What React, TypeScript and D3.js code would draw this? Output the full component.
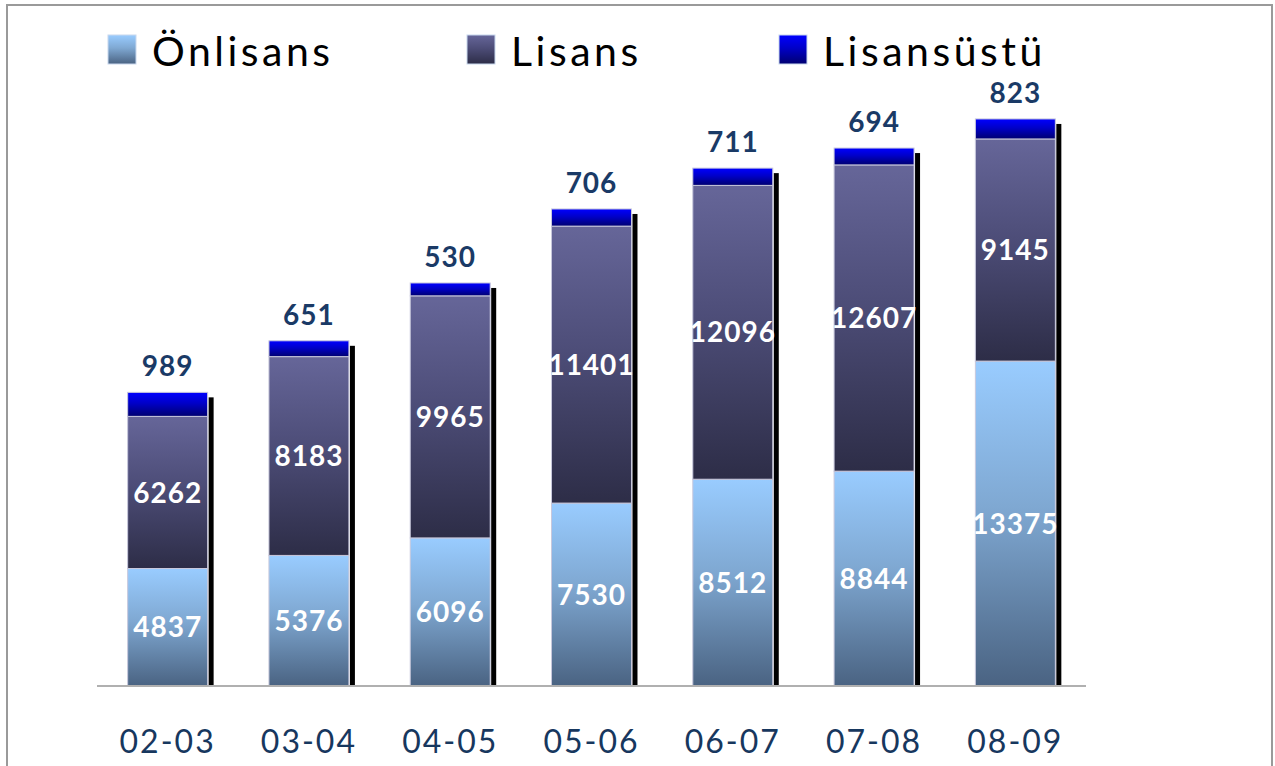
import React from "react";
import * as d3 from "d3";

const categories = ["02-03", "03-04", "04-05", "05-06", "06-07", "07-08", "08-09"];
const onlisans = [4837, 5376, 6096, 7530, 8512, 8844, 13375];
const lisans = [6262, 8183, 9965, 11401, 12096, 12607, 9145];
const lisansustu = [989, 651, 530, 706, 711, 694, 823];
const seriesNames = ["Önlisans", "Lisans", "Lisansüstü"];
const seriesKeys = ["onlisans", "lisans", "lisansustu"];

const W = 1275;
const H = 766;
const baseY = 686;
const plotTop = 78.7;
const plotLeft = 97;
const plotRight = 1086;

const gradStops: Record<string, [string, string, string]> = {
  onlisans: ["#99CCFF", "#7FA8D2", "#4A6382"],
  lisans: ["#666699", "#4D4D78", "#2D2D47"],
  lisansustu: ["#0000FF", "#0000C8", "#000070"],
};

export default function App() {
  const rows = categories.map((c, i) => ({
    cat: c,
    onlisans: onlisans[i],
    lisans: lisans[i],
    lisansustu: lisansustu[i],
  }));
  const stacked = d3.stack<any>().keys(seriesKeys)(rows);
  const x = d3
    .scaleBand<string>()
    .domain(categories)
    .range([plotLeft, plotRight])
    .paddingInner(0.434)
    .paddingOuter(0.217);
  const y = d3.scaleLinear().domain([0, 25000]).range([baseY, plotTop]);
  const bw = x.bandwidth();

  const legendX = [108, 467, 779];

  return (
    <svg
      width={W}
      height={H}
      style={{ position: "absolute", left: 0, top: 0, background: "#fff" }}
      fontFamily="Lato, 'Open Sans', sans-serif"
    >
      <defs>
        {seriesKeys.map((k) => (
          <linearGradient key={k} id={`g-${k}`} x1="0" y1="0" x2="0" y2="1">
            <stop offset="0%" stopColor={gradStops[k][0]} />
            <stop offset="45%" stopColor={gradStops[k][1]} />
            <stop offset="100%" stopColor={gradStops[k][2]} />
          </linearGradient>
        ))}
      </defs>
      <rect x={0} y={0} width={W} height={H} fill="#fff" />
      {/* border */}
      <path d={`M7,${H + 2} V5 H1272 V${H + 2}`} fill="none" stroke="#9a9a9a" strokeWidth={2} />

      {/* shadows */}
      {categories.map((c, i) => {
        const top = y(onlisans[i] + lisans[i] + lisansustu[i]);
        return (
          <rect
            key={"sh" + c}
            x={(x(c) as number) + bw + 1}
            y={top + 5}
            width={5}
            height={baseY - top - 5}
            fill="#000"
          />
        );
      })}

      {/* bars */}
      {stacked.map((s) => (
        <g key={s.key}>
          {s.map((d, i) => (
            <rect
              key={i}
              x={x(categories[i]) as number}
              y={y(d[1])}
              width={bw}
              height={y(d[0]) - y(d[1])}
              fill={`url(#g-${s.key})`}
              stroke="#c8c8dc"
              strokeWidth={1}
            />
          ))}
        </g>
      ))}

      {/* axis line */}
      <line x1={plotLeft} x2={plotRight} y1={baseY} y2={baseY} stroke="#b0b0b0" strokeWidth={2} />

      {/* inner value labels */}
      {stacked.slice(0, 2).map((s) => (
        <g key={"l" + s.key}>
          {s.map((d, i) => (
            <text
              key={i}
              x={(x(categories[i]) as number) + bw / 2}
              y={(y(d[0]) + y(d[1])) / 2}
              dy="0.36em"
              textAnchor="middle"
              fill="#fff"
              fontWeight="bold"
              fontSize={28}
              letterSpacing={1}
            >
              {s.key === "onlisans" ? onlisans[i] : lisans[i]}
            </text>
          ))}
        </g>
      ))}

      {/* top labels */}
      {stacked[2].map((d, i) => (
        <text
          key={"t" + i}
          x={(x(categories[i]) as number) + bw / 2}
          y={y(d[1]) - 16}
          textAnchor="middle"
          fill="#1A3A66"
          fontWeight="bold"
          fontSize={28}
          letterSpacing={1}
        >
          {lisansustu[i]}
        </text>
      ))}

      {/* x axis labels */}
      {categories.map((c) => (
        <text
          key={"x" + c}
          x={(x(c) as number) + bw / 2}
          y={753}
          textAnchor="middle"
          fill="#17375E"
          fontSize={32}
          letterSpacing={2}
        >
          {c}
        </text>
      ))}

      {/* legend */}
      {seriesKeys.map((k, i) => (
        <g key={"lg" + k}>
          <rect
            x={legendX[i]}
            y={35}
            width={28}
            height={29}
            fill={`url(#g-${k})`}
            stroke="#c8d8ee"
            strokeWidth={1}
          />
          <text x={legendX[i] + 44} y={66} fontSize={41} letterSpacing={3.5} fill="#000">
            {seriesNames[i]}
          </text>
        </g>
      ))}
    </svg>
  );
}
